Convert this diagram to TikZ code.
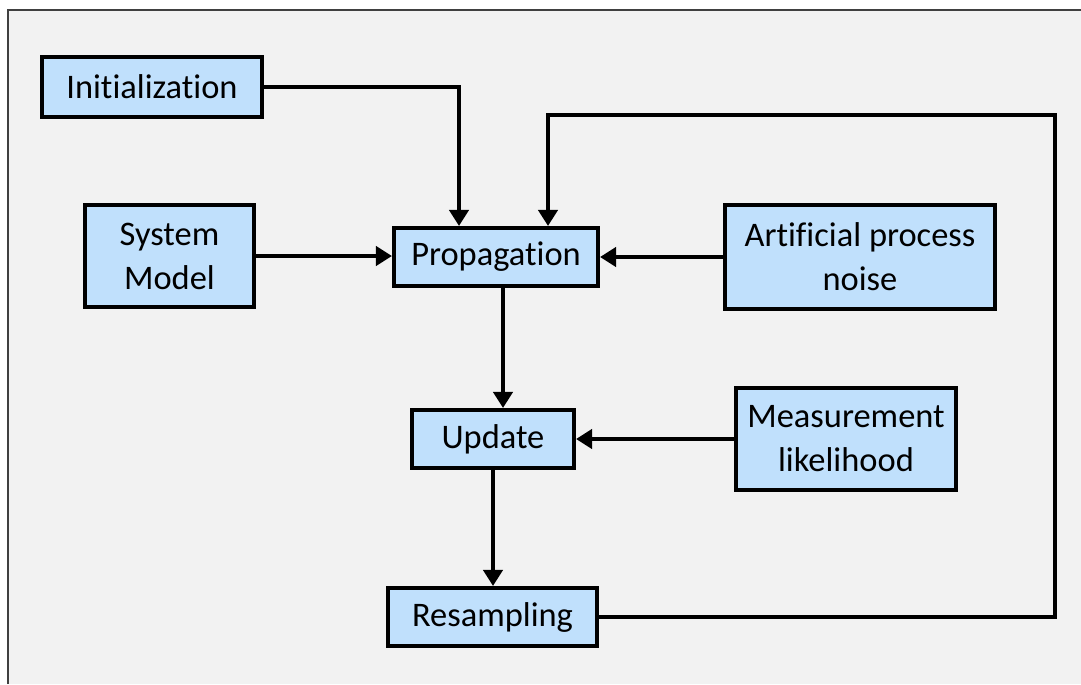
\documentclass[tikz,border=0pt]{standalone}
\usepackage{fontspec}
\setmainfont[Ligatures=NoCommon]{Carlito}
\usepackage{xcolor}
\usetikzlibrary{arrows.meta}
\definecolor{boxblue}{RGB}{192,224,252}
\definecolor{panel}{RGB}{242,242,242}

\begin{document}
\begin{tikzpicture}[>={Triangle[length=0.32cm,width=0.38cm]},
box/.style={draw=black,line width=2.3pt,fill=boxblue,align=center,inner sep=0pt,
font=\fontsize{19.6}{25}\selectfont},
flow/.style={->,line width=2.8pt}]
\useasboundingbox(0,0)rectangle(21.62,-13.68);
\fill[white](0,0)rectangle(21.62,-13.68);
\fill[panel](0.16,-0.2)rectangle(21.62,-13.68);
\draw[line width=0.8pt,black!75](0.16,-13.68)--(0.16,-0.2)--(21.62,-0.2);
\node[box,minimum width=4.4cm,minimum height=1.2cm](init)at(3.04,-1.74){Initialization};
\node[box,minimum width=3.38cm,minimum height=2.04cm](sys)at(3.39,-5.12){System\\Model};
\node[box,minimum width=4.08cm,minimum height=1.16cm](prop)at(9.92,-5.14){Propagation};
\node[box,minimum width=5.4cm,minimum height=2.08cm](noise)at(17.2,-5.14){Artificial process\\noise};
\node[box,minimum width=3.24cm,minimum height=1.16cm](upd)at(9.86,-8.78){Update};
\node[box,minimum width=4.4cm,minimum height=2.04cm](meas)at(16.92,-8.78){Measurement\\likelihood};
\node[box,minimum width=4.18cm,minimum height=1.16cm](resamp)at(9.85,-12.34){Resampling};
\coordinate(loopB)at(21.1,-12.34);
\coordinate(loopT)at(21.1,-2.3);
\draw[flow](init.east)-|([xshift=-0.74cm]prop.north);
\draw[flow](resamp.east)--(loopB)--(loopT)-|([xshift=1.04cm]prop.north);
\draw[flow](sys.east)--(sys.east-|prop.west);
\draw[flow](noise.west)--(prop.east);
\draw[flow]([xshift=0.14cm]prop.south)--([xshift=0.2cm]upd.north);
\draw[flow](meas.west)--(upd.east);
\draw[flow](upd.south)--(upd.south|-resamp.north);
\end{tikzpicture}
\end{document}
